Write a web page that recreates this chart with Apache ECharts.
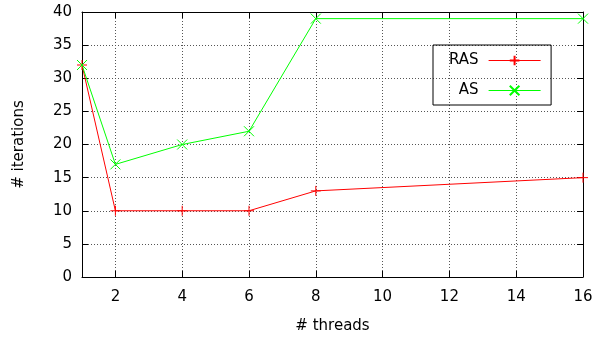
<!DOCTYPE html>
<html>
<head>
<meta charset="utf-8">
<script src="https://cdn.jsdelivr.net/npm/echarts@6/dist/echarts.min.js"></script>
<style>
  html, body { margin: 0; padding: 0; background: #fff; }
  #chart { width: 597px; height: 339px; }
</style>
</head>
<body>
<div id="chart"></div>
<script>
// data
const threads = [1, 2, 4, 6, 8, 16];
const ras = [32, 10, 10, 10, 13, 15];
const as = [32, 17, 20, 22, 39, 39];
const xTicks = [2, 4, 6, 8, 10, 12, 14, 16];

const font = "DejaVu Sans";
const myChart = echarts.init(document.getElementById("chart"));

function pairs(xs, ys) {
  return xs.map((x, i) => [x, ys[i]]);
}

const plusPath = "path://M0,5L10,5M5,0L5,10";
const crossPath = "path://M0,0L10,10M10,0L0,10";

let option = {
  animation: false,
  grid: { left: 82, right: 14, top: 12, bottom: 61 },
  legend: {
    orient: "vertical",
    left: 433,
    top: 45,
    padding: [8, 10, 7, 16],
    itemGap: 15,
    itemWidth: 52,
    itemHeight: 12,
    align: "right",
    borderColor: "#000",
    borderWidth: 1,
    lineStyle: { width: 1 },
    textStyle: { fontFamily: font, fontSize: 15, color: "#000", padding: [0, 5, 0, 0] },
    data: ["RAS", "AS"],
  },
  xAxis: [
    {
      type: "value",
      min: 1,
      max: 16,
      name: "# threads",
      nameLocation: "middle",
      nameGap: 42,
      nameTextStyle: { fontFamily: font, fontSize: 15, color: "#000" },
      axisLine: { lineStyle: { color: "#000", width: 1 } },
      axisTick: { inside: true, length: 6, customValues: xTicks, lineStyle: { color: "#000" } },
      axisLabel: { customValues: xTicks, fontFamily: font, fontSize: 15, color: "#000", margin: 13 },
      splitLine: { show: true, lineStyle: { color: "#555", type: [1, 2] } },
    },
    {
      type: "value",
      min: 1,
      max: 16,
      position: "top",
      axisLine: { show: true, onZero: false, lineStyle: { color: "#000" } },
      axisTick: { inside: true, length: 6, customValues: xTicks, lineStyle: { color: "#000" } },
      axisLabel: { show: false },
      splitLine: { show: false },
    },
  ],
  yAxis: [
    {
      type: "value",
      min: 0,
      max: 40,
      interval: 5,
      name: "# iterations",
      nameLocation: "middle",
      nameGap: 55,
      nameTextStyle: { fontFamily: font, fontSize: 15, color: "#000" },
      axisLine: { show: true, lineStyle: { color: "#000" } },
      axisTick: { show: true, inside: true, length: 6, lineStyle: { color: "#000" } },
      axisLabel: { fontFamily: font, fontSize: 15, color: "#000", margin: 10 },
      splitLine: { show: true, lineStyle: { color: "#555", type: [1, 2] } },
    },
    {
      type: "value",
      min: 0,
      max: 40,
      interval: 5,
      position: "right",
      axisLine: { show: true, onZero: false, lineStyle: { color: "#000" } },
      axisTick: { show: true, inside: true, length: 6, lineStyle: { color: "#000" } },
      axisLabel: { show: false },
      splitLine: { show: false },
    },
  ],
  series: [
    {
      name: "RAS",
      type: "line",
      data: pairs(threads, ras),
      symbol: plusPath,
      symbolSize: 10,
      lineStyle: { color: "#ff0000", width: 1 },
      itemStyle: { color: "#ff0000", borderColor: "#ff0000", borderWidth: 1 },
    },
    {
      name: "AS",
      type: "line",
      data: pairs(threads, as),
      symbol: crossPath,
      symbolSize: 10,
      lineStyle: { color: "#00ff00", width: 1 },
      itemStyle: { color: "#00ff00", borderColor: "#00ff00", borderWidth: 1 },
    },
  ],
};
myChart.setOption(option);
</script>
</body>
</html>
